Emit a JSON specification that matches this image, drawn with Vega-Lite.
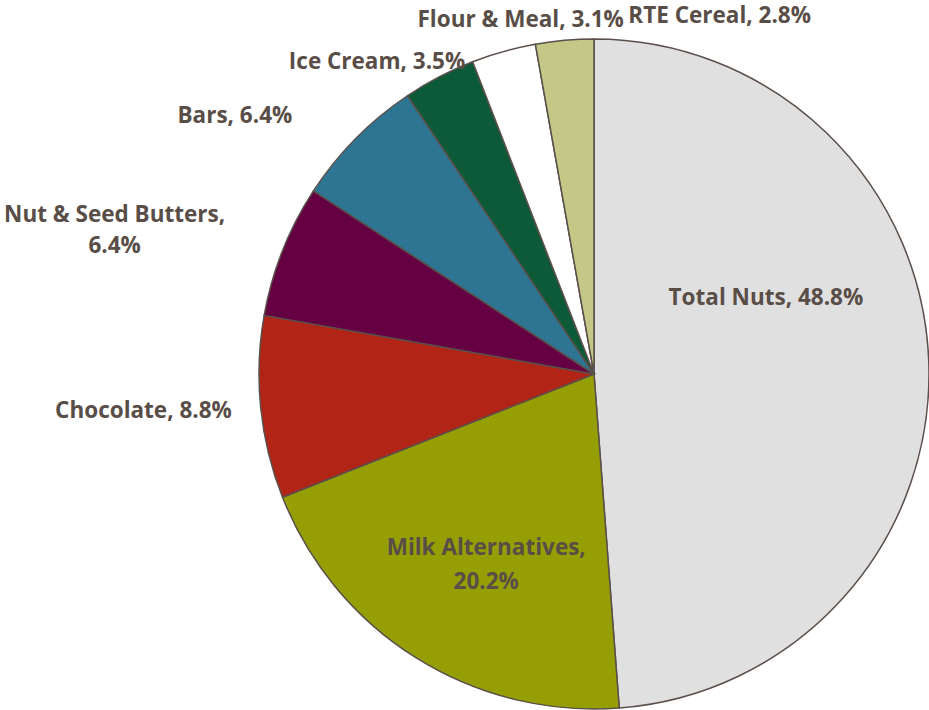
{
  "$schema": "https://vega.github.io/schema/vega-lite/v6.json",
  "width": 670,
  "height": 670,
  "padding": {"left": 259, "top": 39, "right": 0, "bottom": 1},
  "autosize": {"type": "none"},
  "background": "white",
  "view": {"stroke": null},
  "config": {"text": {"font": "Open Sans", "fontWeight": "bold", "fontSize": 22.5, "fill": "#594D47", "lineBreak": "\n", "baseline": "middle"}},
  "data": {
    "values": [
      {"cat": "Total Nuts", "pct": 48.8, "ord": 1, "label": "Total Nuts, 48.8%"},
      {"cat": "Milk Alternatives", "pct": 20.2, "ord": 2, "label": "Milk Alternatives,\n20.2%"},
      {"cat": "Chocolate", "pct": 8.8, "ord": 3, "label": "Chocolate, 8.8%"},
      {"cat": "Nut & Seed Butters", "pct": 6.4, "ord": 4, "label": "Nut & Seed Butters,\n6.4%"},
      {"cat": "Bars", "pct": 6.4, "ord": 5, "label": "Bars, 6.4%"},
      {"cat": "Ice Cream", "pct": 3.5, "ord": 6, "label": "Ice Cream, 3.5%"},
      {"cat": "Flour & Meal", "pct": 3.1, "ord": 7, "label": "Flour & Meal, 3.1%"},
      {"cat": "RTE Cereal", "pct": 2.8, "ord": 8, "label": "RTE Cereal, 2.8%"}
    ]
  },
  "encoding": {
    "theta": {"field": "pct", "type": "quantitative", "stack": true},
    "order": {"field": "ord", "type": "quantitative"}
  },
  "layer": [
    {
      "mark": {"type": "arc", "outerRadius": 335, "stroke": "#5A4F4A", "strokeWidth": 1.5},
      "encoding": {
        "color": {
          "field": "cat",
          "type": "nominal",
          "legend": null,
          "scale": {
            "domain": ["Total Nuts", "Milk Alternatives", "Chocolate", "Nut & Seed Butters", "Bars", "Ice Cream", "Flour & Meal", "RTE Cereal"],
            "range": ["#E0E0E0", "#959F04", "#B22415", "#650043", "#2E7593", "#0C5A37", "#FFFFFF", "#C3C887"]
          }
        }
      }
    },
    {
      "mark": {"type": "text", "radius": 172, "dy": -70, "align": "center"},
      "encoding": {"text": {"condition": {"test": "datum.cat === 'Total Nuts'", "field": "label"}, "value": ""}}
    },
    {
      "mark": {"type": "text", "radius": 222, "dx": 10, "dy": -14, "align": "center", "lineHeight": 34},
      "encoding": {"text": {"condition": {"test": "datum.cat === 'Milk Alternatives'", "field": "label"}, "value": ""}}
    },
    {
      "mark": {"type": "text", "radius": 364, "align": "right"},
      "encoding": {"text": {"condition": {"test": "datum.cat === 'Chocolate'", "field": "label"}, "value": ""}}
    },
    {
      "mark": {"type": "text", "radius": 365, "dx": -140, "dy": -25, "align": "center", "lineHeight": 31},
      "encoding": {"text": {"condition": {"test": "datum.cat === 'Nut & Seed Butters'", "field": "label"}, "value": ""}}
    },
    {
      "mark": {"type": "text", "radius": 365, "dx": -42, "dy": -2, "align": "right"},
      "encoding": {"text": {"condition": {"test": "datum.cat === 'Bars'", "field": "label"}, "value": ""}}
    },
    {
      "mark": {"type": "text", "radius": 352, "dx": 34, "align": "right"},
      "encoding": {"text": {"condition": {"test": "datum.cat === 'Ice Cream'", "field": "label"}, "value": ""}}
    },
    {
      "mark": {"type": "text", "radius": 368, "dx": 26, "align": "center"},
      "encoding": {"text": {"condition": {"test": "datum.cat === 'Flour & Meal'", "field": "label"}, "value": ""}}
    },
    {
      "mark": {"type": "text", "radius": 360, "dx": 66, "dy": 1, "align": "left"},
      "encoding": {"text": {"condition": {"test": "datum.cat === 'RTE Cereal'", "field": "label"}, "value": ""}}
    }
  ]
}
